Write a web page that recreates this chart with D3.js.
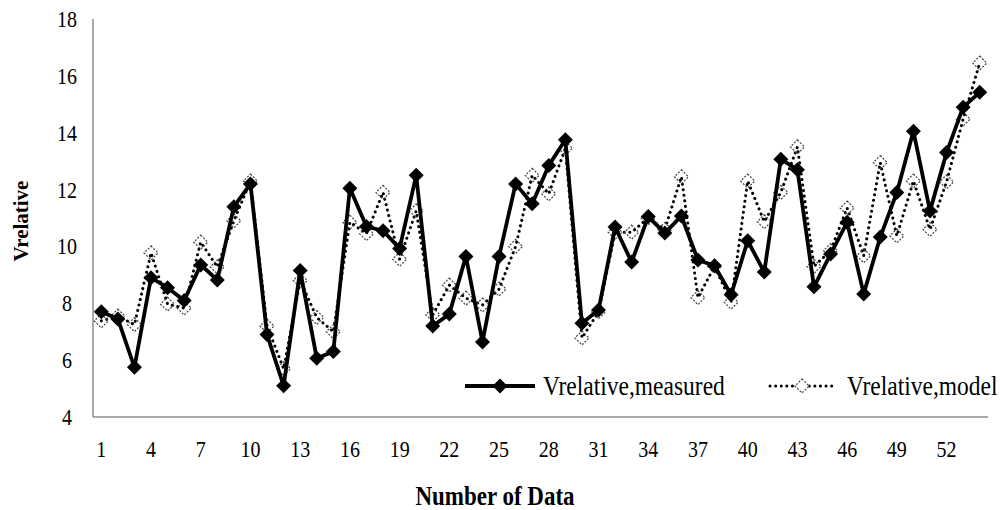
<!DOCTYPE html>
<html>
<head>
<meta charset="utf-8">
<script src="https://cdn.jsdelivr.net/npm/d3@7"></script>
<style>
  body { margin: 0; background: #fff; }
  text { font-family: "Liberation Serif", "Times New Roman", serif; fill: #000; }
</style>
</head>
<body>
<div id="chart"></div>
<script>
// values
const measured = [7.7, 7.45, 5.75, 8.9, 8.55, 8.1, 9.35, 8.82, 11.4, 12.2,
  6.9, 5.1, 9.15, 6.07, 6.3, 12.05, 10.7, 10.55, 9.93, 12.5,
  7.2, 7.62, 9.65, 6.64, 9.65, 12.2, 11.5, 12.85, 13.75, 7.3,
  7.76, 10.68, 9.45, 11.05, 10.47, 11.07, 9.52, 9.32, 8.3, 10.2,
  9.1, 13.07, 12.7, 8.58, 9.73, 10.85, 8.33, 10.33, 11.9, 14.05,
  11.25, 13.3, 14.9, 15.42];
const model = [7.38, 7.55, 7.25, 9.77, 7.97, 7.83, 10.15, 9.28, 10.9, 12.3,
  7.2, 5.7, 8.8, 7.5, 7.0, 10.85, 10.45, 11.9, 9.55, 11.25,
  7.6, 8.64, 8.18, 7.94, 8.5, 10.0, 12.5, 11.85, 13.45, 6.78,
  7.7, 10.5, 10.5, 11.0, 10.6, 12.45, 8.2, 9.3, 8.04, 12.3,
  10.87, 11.9, 13.5, 9.3, 9.85, 11.35, 9.67, 12.95, 10.37, 12.3,
  10.6, 12.27, 14.48, 16.45];
const categories = d3.range(1, measured.length + 1);
const yTicks = [4, 6, 8, 10, 12, 14, 16, 18];
const xTickLabels = d3.range(1, 53, 3);
const seriesNames = ["Vrelative,measured", "Vrelative,model"];

const width = 1002, height = 510;
const plotLeft = 93, plotRight = 988, plotTop = 19, plotBottom = 417;
const stretch = 1.15; // reference text looks vertically stretched

const svg = d3.select("#chart").append("svg")
    .attr("width", width)
    .attr("height", height);

const x = d3.scaleBand().domain(categories).range([plotLeft, plotRight]);
const xc = d => x(d) + x.bandwidth() / 2;
const y = d3.scaleLinear().domain([4, 18]).range([plotBottom, plotTop]);

// axes lines (no tick marks)
svg.append("line")
    .attr("x1", plotLeft).attr("x2", plotLeft)
    .attr("y1", y(18)).attr("y2", plotBottom)
    .attr("stroke", "#8c8c8c").attr("stroke-width", 1.5);
svg.append("line")
    .attr("x1", plotLeft).attr("x2", plotRight)
    .attr("y1", plotBottom).attr("y2", plotBottom)
    .attr("stroke", "#8c8c8c").attr("stroke-width", 1.5);

svg.selectAll(".yLabel")
    .data(yTicks)
    .enter().append("text")
    .attr("class", "yLabel")
    .attr("transform", d => `translate(67,${y(d)}) scale(1,${stretch})`)
    .attr("dy", "0.35em")
    .attr("text-anchor", "middle")
    .attr("font-size", "20px")
    .text(d => d);

svg.selectAll(".xLabel")
    .data(xTickLabels)
    .enter().append("text")
    .attr("class", "xLabel")
    .attr("transform", d => `translate(${xc(d)},449) scale(1,${stretch})`)
    .attr("dy", "0.35em")
    .attr("text-anchor", "middle")
    .attr("font-size", "20px")
    .text(d => d);

svg.append("text")
    .attr("transform", `translate(495,496) scale(1,${stretch})`)
    .attr("dy", "0.35em")
    .attr("text-anchor", "middle")
    .attr("font-size", "23px")
    .attr("font-weight", "bold")
    .text("Number of Data");

svg.append("text")
    .attr("transform", "translate(21,221) rotate(-90)")
    .attr("dy", "0.35em")
    .attr("text-anchor", "middle")
    .attr("font-size", "21px")
    .attr("font-weight", "bold")
    .text("Vrelative");

const line = d3.line().x((d, i) => xc(categories[i])).y(d => y(d));
const diamond = s => `M0,${-s}L${s},0L0,${s}L${-s},0Z`;

// model series (dotted, open diamonds)
svg.append("path")
    .datum(model)
    .attr("d", line)
    .attr("fill", "none")
    .attr("stroke", "#000")
    .attr("stroke-width", 3)
    .attr("stroke-linecap", "round")
    .attr("stroke-dasharray", "0.1,5.5");

svg.selectAll(".modelPt")
    .data(model)
    .enter().append("path")
    .attr("class", "modelPt")
    .attr("transform", (d, i) => `translate(${xc(categories[i])},${y(d)})`)
    .attr("d", diamond(7))
    .attr("fill", "none")
    .attr("stroke", "#444")
    .attr("stroke-width", 1.2)
    .attr("stroke-dasharray", "2,1.5");

// measured series (solid, filled diamonds)
svg.append("path")
    .datum(measured)
    .attr("d", line)
    .attr("fill", "none")
    .attr("stroke", "#000")
    .attr("stroke-width", 3.8)
    .attr("stroke-linejoin", "round");

svg.selectAll(".measPt")
    .data(measured)
    .enter().append("path")
    .attr("class", "measPt")
    .attr("transform", (d, i) => `translate(${xc(categories[i])},${y(d)})`)
    .attr("d", diamond(7.5))
    .attr("fill", "#000");

// legend
const legY = 386;
const leg1 = svg.append("g");
leg1.append("line")
    .attr("x1", 465).attr("x2", 535)
    .attr("y1", legY).attr("y2", legY)
    .attr("stroke", "#000").attr("stroke-width", 3.8);
leg1.append("path")
    .attr("transform", `translate(500,${legY})`)
    .attr("d", diamond(7.5))
    .attr("fill", "#000");
leg1.append("text")
    .attr("transform", `translate(543,${legY}) scale(1,${stretch})`)
    .attr("dy", "0.35em")
    .attr("font-size", "23.5px")
    .text(seriesNames[0]);

const leg2 = svg.append("g");
leg2.append("line")
    .attr("x1", 770).attr("x2", 835)
    .attr("y1", legY).attr("y2", legY)
    .attr("stroke", "#000").attr("stroke-width", 3)
    .attr("stroke-linecap", "round")
    .attr("stroke-dasharray", "0.1,5.5");
leg2.append("path")
    .attr("transform", `translate(802,${legY})`)
    .attr("d", diamond(7))
    .attr("fill", "#fff")
    .attr("stroke", "#444")
    .attr("stroke-width", 1.2)
    .attr("stroke-dasharray", "2,1.5");
leg2.append("text")
    .attr("transform", `translate(847,${legY}) scale(1,${stretch})`)
    .attr("dy", "0.35em")
    .attr("font-size", "23.5px")
    .text(seriesNames[1]);
</script>
</body>
</html>
